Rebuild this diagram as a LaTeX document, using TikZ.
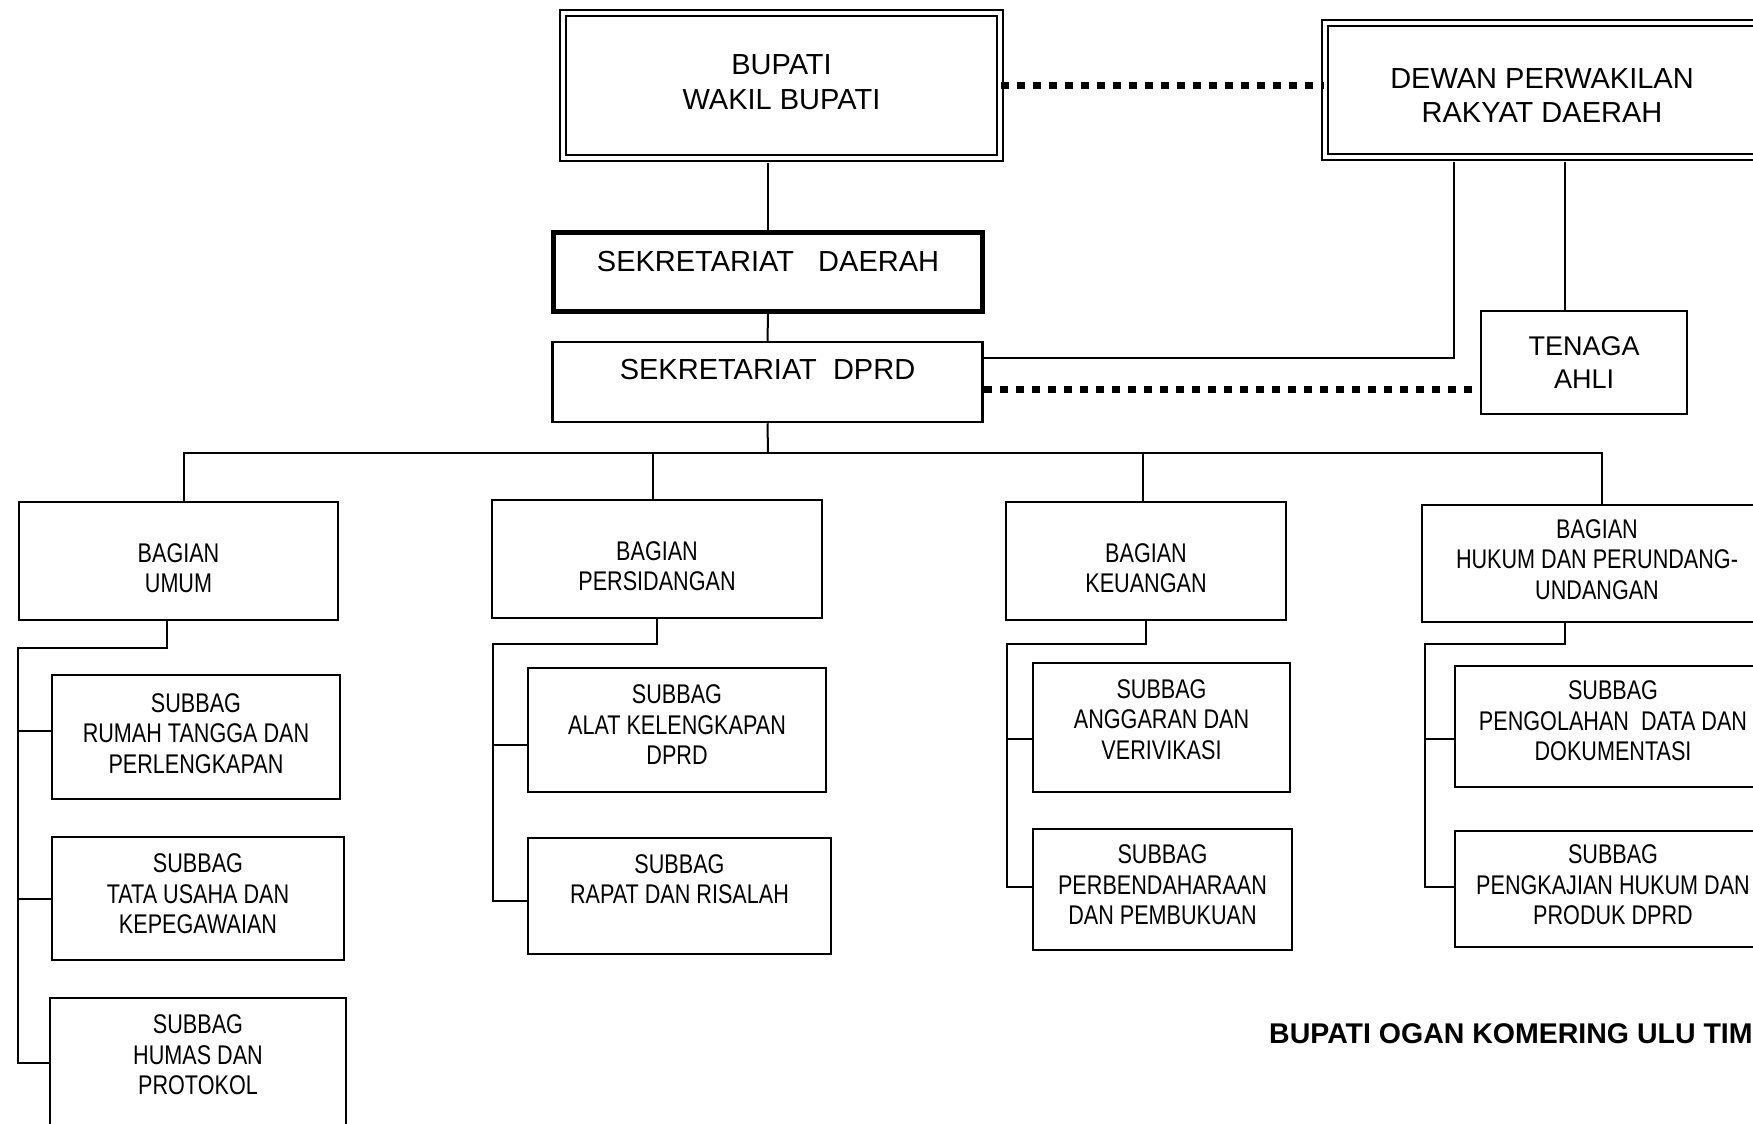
\documentclass[tikz,border=0pt]{standalone}
\usepackage{fontspec}
\setmainfont{Liberation Sans}
\newfontfamily\narrowfont[FakeStretch=0.80]{Liberation Sans}
\newcommand{\bigtxt}{\fontsize{29}{34.5}\selectfont}
\newcommand{\midtxt}{\fontsize{27}{33}\selectfont}
\newcommand{\smalltxt}{\narrowfont\fontsize{27}{30.5}\selectfont}
\newcommand{\titletxt}{\bfseries\fontsize{28.5}{34}\selectfont}

\begin{document}
\begin{tikzpicture}[x=1pt, y=-1pt,
    box/.style={draw, line width=2.5pt, align=center, inner sep=0pt, font=\smalltxt},
    wh/.style 2 args={minimum width=#1pt, minimum height=#2pt},
    dblbox/.style={draw, double, double distance=4pt, line width=1.8pt, inner sep=0pt},
    every label/.style={align=center, inner sep=0pt, font=\smalltxt},
    conn/.style={line width=2pt},
    dotline/.style={line width=7pt, dash pattern=on 8pt off 8pt}]
  \useasboundingbox (0,0) rectangle (1753,1124);
  \clip (0,0) rectangle (1753,1124);

  \node[dblbox, wh={437}{145}, label={[font=\bigtxt, yshift=3.5pt]center:{BUPATI\\WAKIL BUPATI}}] (bupati) at (781.5,85.5) {};
  \node[dblbox, wh={434}{134}, label={[font=\bigtxt, yshift=-5.5pt]center:{DEWAN PERWAKILAN\\RAKYAT DAERAH}}] (dewan) at (1542,90) {};
  \node[box, line width=5pt, wh={429}{79}, label={[font=\bigtxt, yshift=10pt]center:{SEKRETARIAT\ \ \ DAERAH}}] (sd) at (768,272) {};
  \node[box, wh={430}{80}, label={[font=\bigtxt, yshift=12.5pt]center:{SEKRETARIAT\ \ DPRD}}] (dprd) at (767.5,382) {};
  \node[box, font=\midtxt, wh={206}{103}] (tenaga) at (1584,362.5) {TENAGA\\AHLI};

  \node[box, wh={319}{118}, label={[yshift=-7pt]center:{BAGIAN\\UMUM}}] (umum) at (178.5,561) {};
  \node[box, wh={330}{118}, label={[yshift=-7pt]center:{BAGIAN\\PERSIDANGAN}}] (pers) at (657,559) {};
  \node[box, wh={280}{118}, label={[yshift=-7pt]center:{BAGIAN\\KEUANGAN}}] (keu) at (1146,561) {};
  \node[box, wh={350}{117}, label={[yshift=4pt]center:{BAGIAN\\HUKUM DAN PERUNDANG-\\UNDANGAN}}] (hukum) at (1597,563.5) {};

  \node[box, wh={288}{124}, label={[yshift=3.5pt]center:{SUBBAG\\RUMAH TANGGA DAN\\PERLENGKAPAN}}] (rt) at (196,737) {};
  \node[box, wh={292}{123}, label={[yshift=4.5pt]center:{SUBBAG\\TATA USAHA DAN\\KEPEGAWAIAN}}] (tu) at (198,898.5) {};
  \node[box, wh={296}{140}, label={[yshift=13pt]center:{SUBBAG\\HUMAS DAN\\PROTOKOL}}] (hp) at (198,1068) {};
  \node[box, wh={298}{124}, label={[yshift=5pt]center:{SUBBAG\\ALAT KELENGKAPAN\\DPRD}}] (alat) at (677,730) {};
  \node[box, wh={303}{116}, label={[yshift=17pt]center:{SUBBAG\\RAPAT DAN RISALAH}}] (rapat) at (679.5,896) {};
  \node[box, wh={257}{129}, label={[yshift=8pt]center:{SUBBAG\\ANGGARAN DAN\\VERIVIKASI}}] (angg) at (1161.5,727.5) {};
  \node[box, wh={259}{121}, label={[yshift=4.5pt]center:{SUBBAG\\PERBENDAHARAAN\\DAN PEMBUKUAN}}] (perb) at (1162.5,889.5) {};
  \node[box, wh={316}{121}, label={[yshift=5.5pt]center:{SUBBAG\\PENGOLAHAN\ \ DATA DAN\\DOKUMENTASI}}] (peng) at (1613,726.5) {};
  \node[box, wh={316}{116}, label={[yshift=4pt]center:{SUBBAG\\PENGKAJIAN HUKUM DAN\\PRODUK DPRD}}] (pkj) at (1613,889) {};

  \node[anchor=base west, font=\titletxt, inner sep=0pt] (title) at (1269,1043) {BUPATI OGAN KOMERING ULU TIMUR};

  \coordinate (b1) at ([yshift=-4pt]bupati.south);
  \draw[conn] (sd.north) -- (sd.north |- b1);
  \draw[conn] (sd.south) -- (dprd.north);
  \draw[dotline] (bupati.east) -- (bupati.east -| dewan.west);

  \coordinate (d1) at ([xshift=-88pt,yshift=-4pt]dewan.south);
  \coordinate (d2) at ([xshift=23pt,yshift=-4pt]dewan.south);
  \coordinate (p1) at ([yshift=-7pt]dprd.east);
  \draw[conn] ([yshift=24pt]dprd.east) -| (d1);
  \draw[conn] (d2) -- (d2 |- tenaga.north);
  \draw[dotline] (p1) -- (p1 -| tenaga.west);

  \coordinate (bus) at (768,453);
  \draw[conn] (dprd.south) -- (bus);
  \draw[conn] ([xshift=5.5pt]umum.north) |- (bus) -| ([xshift=5pt]hukum.north);
  \draw[conn] ([xshift=-4pt]pers.north) |- (bus);
  \draw[conn] ([xshift=-3pt]keu.north) |- (bus);

  \coordinate (s1) at (18,648);
  \draw[conn] ([xshift=-11.5pt]umum.south) |- (s1) |- ([yshift=5pt]hp.west);
  \draw[conn] (s1) |- ([yshift=6pt]rt.west);
  \draw[conn] (s1) |- (tu.west);

  \coordinate (s2) at (493,644);
  \draw[conn] (pers.south) |- (s2) |- ([yshift=-5pt]rapat.west);
  \draw[conn] (s2) |- ([yshift=-15pt]alat.west);

  \coordinate (s3) at (1007,644);
  \draw[conn] (keu.south) |- (s3) |- ([yshift=2.5pt]perb.west);
  \draw[conn] (s3) |- ([yshift=-11.5pt]angg.west);

  \coordinate (s4) at (1425,644);
  \draw[conn] ([xshift=-32pt]hukum.south) |- (s4) |- ([yshift=2pt]pkj.west);
  \draw[conn] (s4) |- ([yshift=-12.5pt]peng.west);
\end{tikzpicture}
\end{document}
